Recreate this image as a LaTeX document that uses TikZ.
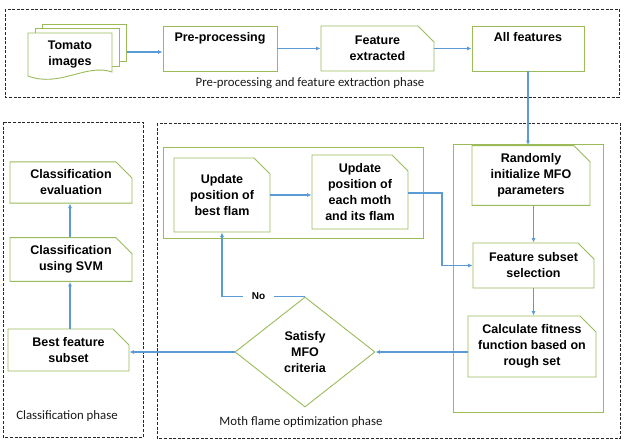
\documentclass[tikz,border=0pt]{standalone}
\usepackage{fontspec}
\setmainfont{Liberation Sans}
\newfontfamily\lblfont{Carlito}
\usetikzlibrary{shapes.misc,shapes.geometric,arrows.meta}
\definecolor{boxgreen}{RGB}{155,187,89}
\definecolor{arrowblue}{RGB}{91,155,213}
\definecolor{dashgray}{RGB}{40,40,40}
\tikzset{
  box/.style={chamfered rectangle, chamfered rectangle corners=north east,
    chamfered rectangle xsep=8pt, chamfered rectangle ysep=8pt,
    draw=boxgreen, line width=0.9pt, fill=white, inner sep=0pt,
    align=center, font=\fontsize{12.5}{16}\selectfont\bfseries},
  txt/.style={align=center, inner sep=0pt, font=\fontsize{12.5}{16}\selectfont\bfseries},
  doc/.style={draw=boxgreen, line width=0.9pt, fill=white},
  panel/.style={draw=boxgreen, line width=0.9pt},
  phase/.style={draw=dashgray, line width=0.9pt, dash pattern=on 3pt off 1.6pt},
  phaselbl/.style={inner sep=0pt, text=black!90, font=\lblfont\fontsize{12.8}{15}\selectfont},
  arr/.style={draw=arrowblue, line width=1.1pt, -{Latex[length=4.5pt,width=4pt]}},
  dia/.style={diamond, draw=boxgreen, line width=0.9pt, fill=white, inner sep=0pt,
    minimum width=140pt, minimum height=110pt, align=center,
    font=\fontsize{12.5}{16}\selectfont\bfseries}
}
\begin{document}
\begin{tikzpicture}[x=1pt,y=-1pt]
\useasboundingbox (0,0) rectangle (626,442);
\fill[white] (0,0) rectangle (626,442);

% phase frames
\draw[phase] (5,9) rectangle (619,97);
\draw[phase] (3,122) rectangle (143,437);
\draw[phase] (157,123) rectangle (620,438);
\node[phaselbl] (lblA) at (310,83) {Pre-processing and feature extraction phase};
\node[phaselbl] (lblB) at (67,416) {Classification phase};
\node[phaselbl] (lblC) at (301,422) {Moth flame optimization phase};

% inner green panels
\draw[panel] (163,147) rectangle (423,238);
\draw[panel] (453,144) rectangle (603,412);

% tomato images (multi-document)
\draw[doc] (42,24) rectangle (126,61);
\draw[doc] (35,28) rectangle (119,66);
\draw[doc] (28,33) -- (112,33) -- (112,72) .. controls (86,63) and (60,88) .. (28,76) -- cycle;
\node[txt] (tomato) at (70,55) {Tomato\\images};
\coordinate (tomatoE) at (127,52);

% top row
\node[box, minimum width=114pt, minimum height=45pt] (pre) at (220,48.5) {};
\node[txt, anchor=north] (preT) at (220,32) {Pre-processing};
\node[box, minimum width=113pt, minimum height=45pt] (feat) at (377.5,48.5) {Feature\\extracted};
\node[box, minimum width=112pt, minimum height=45pt] (allf) at (528,48.5) {};
\node[txt, anchor=north] (allfT) at (528,32) {All features};

% classification column
\node[box, minimum width=122pt, minimum height=41pt] (eval) at (71,182.5) {Classification\\evaluation};
\node[box, minimum width=122pt, minimum height=39pt] (svm) at (71,259.5) {Classification\\using SVM};
\node[box, minimum width=121pt, minimum height=42pt] (best) at (68.5,350) {Best feature\\subset};

% MFO
\node[box, minimum width=96pt, minimum height=74pt] (bflam) at (222,195) {Update\\position of\\best flam};
\node[box, minimum width=96pt, minimum height=74pt] (emoth) at (360,192) {Update\\position of\\each moth\\and its flam};
\node[box, minimum width=118pt, minimum height=47pt] (rand) at (531,175.5) {Randomly\\initialize MFO\\parameters};
\node[box, minimum width=121pt, minimum height=45pt] (fsub) at (533.5,265.5) {Feature subset\\selection};
\node[box, minimum width=128pt, minimum height=61pt] (calc) at (532,346.5) {Calculate fitness\\function based on\\rough set};
\node[dia] (crit) at (305,352) {Satisfy\\MFO\\criteria};

% connectors
\draw[arr] (tomatoE) -- (tomatoE -| pre.west);
\draw[arr] (pre.east) -- (feat.west);
\draw[arr] (feat.east) -- (allf.west);
\draw[arr] (allf.south) -- (allf.south |- rand.north);
\draw[arr] (rand.south -| fsub.north) -- (fsub.north);
\draw[arr] (fsub.south) -- (fsub.south |- calc.north);
\coordinate (bend) at (442,193);
\draw[arr] (emoth.east |- bend) -- (bend) |- (fsub.west);
\draw[arr] (calc.west |- crit.east) -- (crit.east);
\draw[arr] (crit.west) -- (crit.west -| best.east);
\draw[arr] (svm.north -| 70,0) -- (eval.south -| 70,0);
\draw[arr] (best.north -| 70,0) -- (svm.south -| 70,0);
\draw[arr] (bflam.east) -- (bflam.east -| emoth.west);
\draw[arr] (crit.north) -| node[pos=0.28, fill=white, inner xsep=9pt, inner ysep=1pt, text=black,
  font=\fontsize{10}{12}\selectfont\bfseries] (no) {No} (bflam.south);
\end{tikzpicture}
\end{document}
